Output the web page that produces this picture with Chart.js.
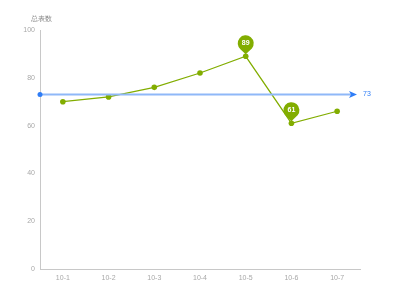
<!DOCTYPE html>
<html>
<head>
<meta charset="utf-8">
<script src="https://cdn.jsdelivr.net/npm/chart.js@4"></script>
<style>
  html, body { margin: 0; padding: 0; background: #fff; }
  #wrap { width: 400px; height: 300px; }
</style>
</head>
<body>
<div id="wrap"><canvas id="chart" width="400" height="300"></canvas></div>
<script>
const labels = ["10-1", "10-2", "10-3", "10-4", "10-5", "10-6", "10-7"];
const values = [70, 72, 76, 82, 89, 61, 66];
const refValue = 73;
const pinnedIndexes = [4, 5];
const yTicks = [0, 20, 40, 60, 80, 100];
const axisTitle = "总表数";

const green = "#82ad00";
const blue = "#2f7df6";
const tickColor = "#a8a8a8";
const fontFamily = "'Liberation Sans', Arial, sans-serif";

// draws the reference line, axis title and the pins
const extras = {
  id: "extras",
  afterDatasetsDraw(chart) {
    const { ctx, chartArea, scales } = chart;
    const y = scales.y.getPixelForValue(refValue);
    const endX = chartArea.right - 3;

    ctx.save();
    ctx.strokeStyle = "#8fb8f8";
    ctx.lineWidth = 2;
    ctx.beginPath();
    ctx.moveTo(chartArea.left, y);
    ctx.lineTo(endX - 6, y);
    ctx.stroke();

    // arrow head
    ctx.fillStyle = blue;
    ctx.beginPath();
    ctx.moveTo(endX, y);
    ctx.lineTo(endX - 8, y - 3.5);
    ctx.lineTo(endX - 6, y);
    ctx.lineTo(endX - 8, y + 3.5);
    ctx.closePath();
    ctx.fill();

    // start dot
    ctx.beginPath();
    ctx.arc(chartArea.left, y, 2.5, 0, Math.PI * 2);
    ctx.fill();

    ctx.font = "7px " + fontFamily;
    ctx.textBaseline = "middle";
    ctx.textAlign = "left";
    ctx.fillText(String(refValue), endX + 6, y);

    // axis title
    ctx.fillStyle = "#888";
    ctx.textAlign = "left";
    ctx.fillText(axisTitle, 31, 19);

    // pins
    const meta = chart.getDatasetMeta(0);
    pinnedIndexes.forEach(i => {
      const p = meta.data[i];
      const cx = p.x, cy = p.y - 13;
      const r = 8;
      ctx.fillStyle = green;
      ctx.beginPath();
      ctx.arc(cx, cy, r, Math.PI * 0.72, Math.PI * 2.28);
      ctx.lineTo(cx, p.y - 2);
      ctx.closePath();
      ctx.fill();
      ctx.fillStyle = "#fff";
      ctx.font = "bold 7px " + fontFamily;
      ctx.textAlign = "center";
      ctx.fillText(String(values[i]), cx, cy);
    });
    ctx.restore();
  }
};

new Chart(document.getElementById("chart"), {
  type: "line",
  data: {
    labels,
    datasets: [{
      data: values,
      borderColor: green,
      backgroundColor: green,
      borderWidth: 1.2,
      pointRadius: 2.8,
      pointHoverRadius: 2.8,
      pointBorderWidth: 0,
      tension: 0
    }]
  },
  options: {
    responsive: false,
    animation: false,
    layout: { padding: { top: 30, right: 40, bottom: 0, left: 0 } },
    plugins: { legend: { display: false }, tooltip: { enabled: false } },
    scales: {
      x: {
        offset: true,
        grid: { display: false, drawTicks: false },
        border: { color: "#c8c8c8", width: 1 },
        ticks: { color: tickColor, font: { size: 7, family: fontFamily }, padding: 5, maxRotation: 0 },
        afterFit(scale) { scale.height = 31; }
      },
      y: {
        min: 0,
        max: 100,
        grid: { display: false, drawTicks: false },
        border: { color: "#c8c8c8", width: 1 },
        afterBuildTicks(scale) { scale.ticks = yTicks.map(v => ({ value: v })); },
        ticks: { color: tickColor, font: { size: 7, family: fontFamily }, padding: 5 },
        afterFit(scale) { scale.width = 40; }
      }
    }
  },
  plugins: [extras]
});
</script>
</body>
</html>
